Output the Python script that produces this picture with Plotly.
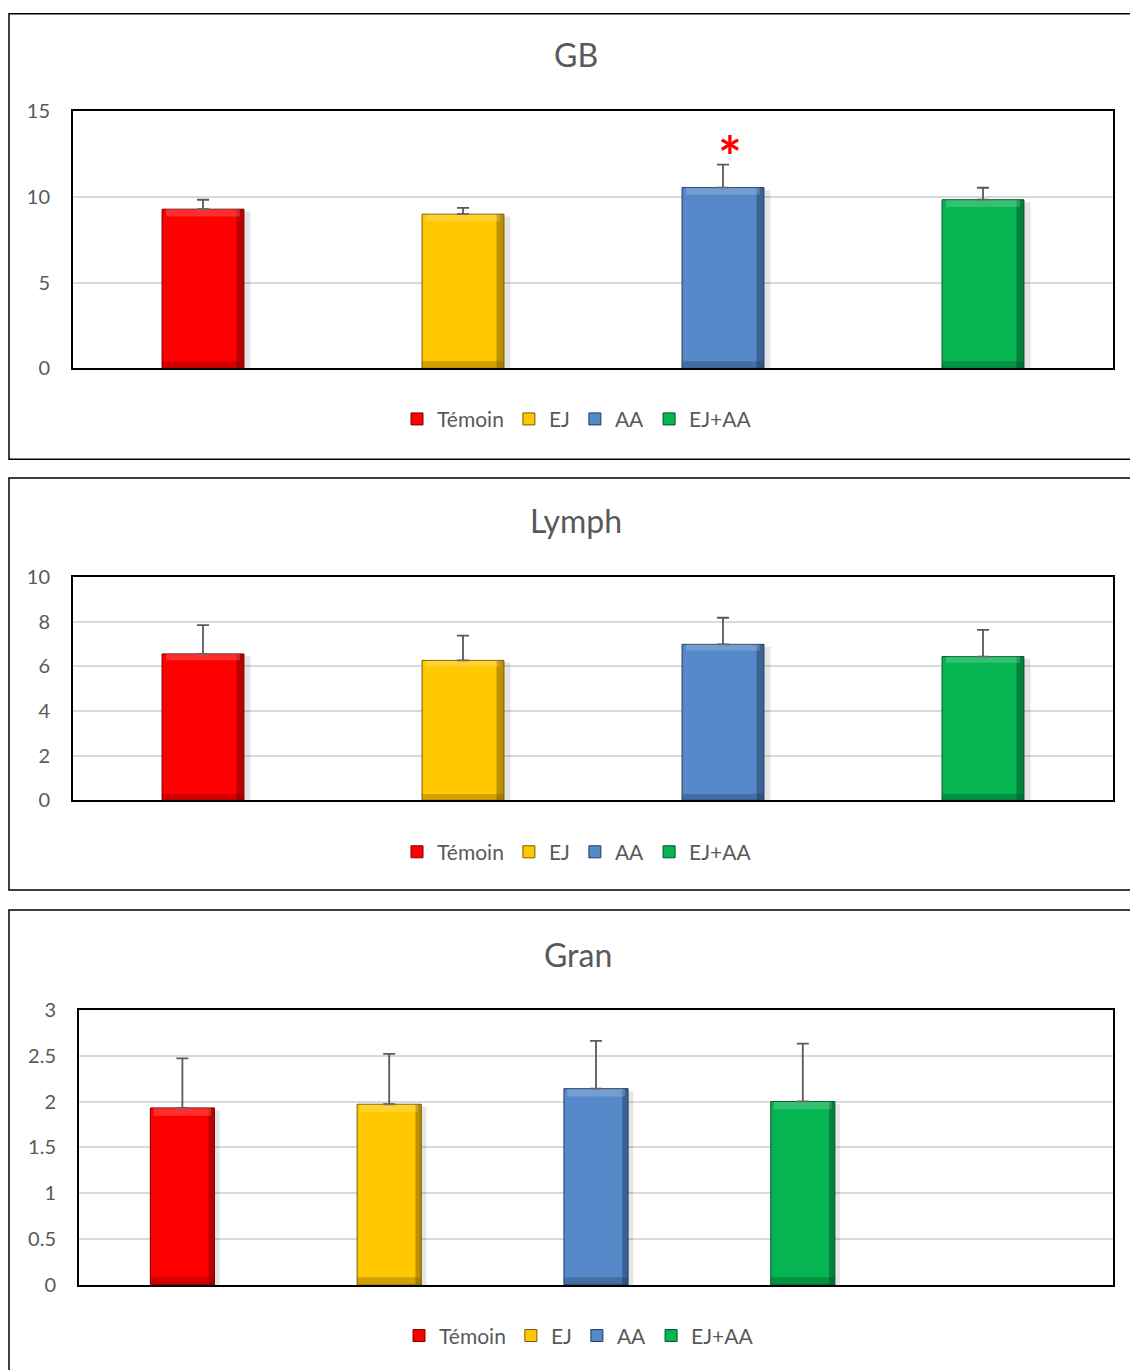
import plotly.graph_objects as go

W, H = 1130, 1370

groups = ["Témoin", "EJ", "AA", "EJ+AA"]
colors = ["#FF0000", "#FFC800", "#5589C9", "#05B552"]
edge_colors = ["#7A0000", "#7A5A00", "#1F3B5E", "#00502A"]

gb_mean = [9.28, 8.99, 10.54, 9.83]
gb_err = [0.55, 0.37, 1.34, 0.70]
lymph_mean = [6.55, 6.26, 6.98, 6.43]
lymph_err = [1.29, 1.11, 1.19, 1.20]
gran_mean = [1.93, 1.97, 2.14, 2.00]
gran_err = [0.54, 0.55, 0.52, 0.63]

titles = ["GB", "Lymph", "Gran"]
gb_ticks = [0, 5, 10, 15]
lymph_ticks = [0, 2, 4, 6, 8, 10]
gran_ticks = [0, 0.5, 1, 1.5, 2, 2.5, 3]
gran_ticktext = ["0", "0.5", "1", "1.5", "2", "2.5", "3"]


def px(x):
    return x / W


def py(y):
    # page-pixel position -> paper fraction (compensates the page offset)
    yf = (y - 10.7) / 0.985
    yf = max(yf, 0.75)
    return 1 - yf / H


TXT = "#595959"
FONT = "Lato"

panels = [
    dict(mean=gb_mean, err=gb_err, ticks=gb_ticks, ticktext=[str(t) for t in gb_ticks],
         rng=[0, 15], ncat=4, dom_x=[73, 1113], dom_y=[109, 367], width=0.315,
         title_y=52, title_x=576, legend_y=418, legend_x=577, box=[10, 458]),
    dict(mean=lymph_mean, err=lymph_err, ticks=lymph_ticks, ticktext=[str(t) for t in lymph_ticks],
         rng=[0, 10], ncat=4, dom_x=[73, 1113], dom_y=[576, 800], width=0.315,
         title_y=519, title_x=576, legend_y=852, legend_x=577, box=[477, 890]),
    dict(mean=gran_mean, err=gran_err, ticks=gran_ticks, ticktext=gran_ticktext,
         rng=[0, 3], ncat=5, dom_x=[79, 1113], dom_y=[1010, 1286], width=0.31,
         title_y=955, title_x=578, legend_y=1337, legend_x=579, box=[910, 1390]),
]

fig = go.Figure()
layout = dict(
    width=W, height=H, margin=dict(l=0, r=0, t=0, b=0),
    paper_bgcolor="white", plot_bgcolor="white",
    barmode="overlay", showlegend=True,
    font=dict(family=FONT, color=TXT),
)
shapes = []
annotations = []

for pi, p in enumerate(panels):
    sfx = "" if pi == 0 else str(pi + 1)
    xa, ya = "x" + sfx, "y" + sfx
    lg = "legend" + sfx
    bw = p["width"]
    sw = bw * 0.09
    shw = bw * 0.08
    band = p["rng"][1] * 0.028
    for i, g in enumerate(groups):
        m = p["mean"][i]
        # soft shadow to the right of the bar
        fig.add_trace(go.Bar(
            x=[i + bw / 2 + shw / 2], y=[m * 0.985], width=shw,
            marker=dict(color="#000000", opacity=0.10, line=dict(width=0)),
            xaxis=xa, yaxis=ya, showlegend=False, hoverinfo="skip",
        ))
        fig.add_trace(go.Bar(
            x=[i], y=[m], width=bw, name=g,
            marker=dict(color=colors[i], line=dict(color=edge_colors[i], width=1)),
            error_y=dict(type="data", symmetric=False, array=[p["err"][i]], arrayminus=[0],
                         color="#595959", thickness=1.8, width=6),
            xaxis=xa, yaxis=ya, legend=lg, showlegend=True,
        ))
        # darker right bevel strip
        fig.add_trace(go.Bar(
            x=[i + bw / 2 - sw / 2], y=[m], width=sw,
            marker=dict(color=edge_colors[i], opacity=0.5, line=dict(width=0)),
            xaxis=xa, yaxis=ya, showlegend=False, hoverinfo="skip",
        ))
        # darker bottom bevel band
        fig.add_trace(go.Bar(
            x=[i], y=[band], width=bw,
            marker=dict(color=edge_colors[i], opacity=0.35, line=dict(width=0)),
            xaxis=xa, yaxis=ya, showlegend=False, hoverinfo="skip",
        ))
        # lighter top bevel band
        fig.add_trace(go.Bar(
            x=[i], y=[band], base=[m - band], width=bw * 0.9,
            marker=dict(color="#FFFFFF", opacity=0.18, line=dict(width=0)),
            xaxis=xa, yaxis=ya, showlegend=False, hoverinfo="skip",
        ))
    layout["xaxis" + sfx] = dict(
        domain=[px(p["dom_x"][0]), px(p["dom_x"][1])],
        range=[-0.5, p["ncat"] - 0.5], showticklabels=False, showgrid=False,
        zeroline=False, showline=True, linecolor="black", linewidth=2, mirror=True,
        anchor=ya, fixedrange=True, ticks="",
    )
    layout["yaxis" + sfx] = dict(
        domain=[py(p["dom_y"][1]), py(p["dom_y"][0])],
        range=p["rng"], tickvals=p["ticks"], ticktext=p["ticktext"],
        showgrid=True, gridcolor="#D9D9D9", gridwidth=1.5, zeroline=False,
        showline=True, linecolor="black", linewidth=2, mirror=True,
        tickfont=dict(size=20, color=TXT, family=FONT), ticks="", ticklabelstandoff=17,
        anchor=xa, fixedrange=True,
    )
    layout[lg] = dict(
        orientation="h", x=px(p["legend_x"]), xanchor="center",
        y=py(p["legend_y"]), yanchor="middle",
        font=dict(size=21, color=TXT, family=FONT), bgcolor="rgba(0,0,0,0)",
        itemwidth=30, traceorder="normal",
    )
    annotations.append(dict(
        text=titles[pi], x=px(p["title_x"]), y=py(p["title_y"]), xref="paper", yref="paper",
        showarrow=False, xanchor="center", yanchor="middle",
        font=dict(size=32, color=TXT, family=FONT),
    ))
    shapes.append(dict(
        type="rect", xref="paper", yref="paper",
        x0=px(9), x1=px(1140), y0=py(p["box"][1]), y1=py(p["box"][0]),
        line=dict(color="black", width=1.5), fillcolor="rgba(0,0,0,0)", layer="below",
    ))

# significance star above AA in GB panel
annotations.append(dict(
    text="<b>*</b>", x=2, y=gb_mean[2] + gb_err[2], xref="x", yref="y",
    showarrow=False, yanchor="bottom", yshift=-26, xshift=7,
    font=dict(size=56, color="#FF0000", family=FONT),
))

layout["shapes"] = shapes
layout["annotations"] = annotations
fig.update_layout(**layout)

fig.write_html("out.html", config={"displayModeBar": False},
               post_script="document.body.style.margin='0';")
